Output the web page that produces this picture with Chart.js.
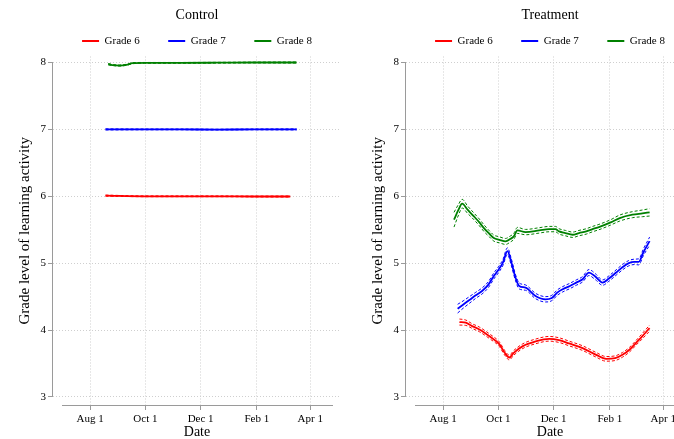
<!DOCTYPE html>
<html>
<head>
<meta charset="utf-8">
<script src="https://cdn.jsdelivr.net/npm/chart.js"></script>
<style>
  html, body { margin: 0; padding: 0; background: #fff; overflow: hidden; }
  #wrap { position: relative; width: 674px; height: 439px; overflow: hidden; }
  .panel { position: absolute; top: 0; width: 345px; height: 439px; }
</style>
</head>
<body>
<div id="wrap">
  <div class="panel" style="left:0"><canvas id="control" width="345" height="439"></canvas></div>
  <div class="panel" style="left:353px"><canvas id="treatment" width="345" height="439"></canvas></div>
</div>
<script>
/*---------------------------- data ------------------------------------*/
// x values are days since Aug 1
var tickDays = [0, 61, 122, 184, 243];
var tickLabels = ['Aug 1', 'Oct 1', 'Dec 1', 'Feb 1', 'Apr 1'];
var yTicks = [3, 4, 5, 6, 7, 8];
var grades = ['Grade 6', 'Grade 7', 'Grade 8'];
var gradeColors = ['#ff0000', '#0000ff', '#008000'];

// Control
var ctrlDays6 = [17, 60, 100, 140, 180, 221];
var ctrl6 = [6.01, 6.0, 6.0, 6.0, 5.997, 5.997];
var ctrl6Band = [0.008, 0.006, 0.006, 0.006, 0.006, 0.008];
var ctrlDays7 = [17, 60, 100, 140, 180, 228];
var ctrl7 = [7.0, 7.0, 7.0, 6.997, 7.0, 7.0];
var ctrl7Band = [0.008, 0.006, 0.006, 0.006, 0.006, 0.008];
var ctrlDays8 = [20, 26, 32, 40, 47, 60, 100, 140, 180, 228];
var ctrl8 = [7.975, 7.96, 7.955, 7.965, 7.99, 7.995, 7.995, 7.997, 8.0, 8.0];
var ctrl8Band = [0.01, 0.008, 0.008, 0.008, 0.008, 0.006, 0.006, 0.006, 0.006, 0.008];

// Treatment
var treatDays6 = [18, 25, 32, 40, 52, 62, 68, 73, 78, 88, 102, 117, 128, 139, 154, 169, 180, 190, 198, 206, 213, 220, 228];
var treat6 = [4.12, 4.11, 4.06, 4.01, 3.90, 3.79, 3.66, 3.59, 3.66, 3.76, 3.83, 3.87, 3.85, 3.80, 3.73, 3.63, 3.57, 3.58, 3.63, 3.71, 3.81, 3.91, 4.03];
var treat6Band = [0.045, 0.04, 0.035, 0.035, 0.035, 0.035, 0.035, 0.035, 0.035, 0.035, 0.035, 0.035, 0.035, 0.035, 0.035, 0.035, 0.035, 0.035, 0.035, 0.035, 0.035, 0.04, 0.045];

var treatDays7 = [16, 22, 29, 36, 43, 50, 56, 61, 66, 71, 75, 80, 84, 91, 102, 113, 120, 126, 132, 140, 147, 154, 161, 168, 176, 183, 191, 198, 205, 211, 216, 221, 228];
var treat7 = [4.32, 4.38, 4.45, 4.52, 4.585, 4.68, 4.81, 4.9, 5.01, 5.18, 5.03, 4.78, 4.66, 4.635, 4.51, 4.46, 4.48, 4.56, 4.61, 4.66, 4.71, 4.76, 4.86, 4.8, 4.71, 4.77, 4.86, 4.94, 5.0, 5.02, 5.02, 5.16, 5.33];
var treat7Band = [0.065, 0.055, 0.05, 0.045, 0.045, 0.045, 0.045, 0.045, 0.045, 0.05, 0.05, 0.045, 0.045, 0.04, 0.04, 0.04, 0.04, 0.04, 0.04, 0.04, 0.04, 0.04, 0.045, 0.045, 0.04, 0.04, 0.04, 0.04, 0.04, 0.04, 0.045, 0.05, 0.06];

var treatDays8 = [12, 17, 21, 27, 34, 40, 45, 51, 56, 62, 69, 74, 78, 82, 91, 106, 117, 124, 128, 135, 143, 150, 158, 165, 172, 185, 195, 209, 220, 228];
var treat8 = [5.65, 5.80, 5.89, 5.80, 5.70, 5.61, 5.525, 5.44, 5.375, 5.35, 5.325, 5.36, 5.40, 5.49, 5.465, 5.49, 5.51, 5.51, 5.475, 5.45, 5.425, 5.45, 5.475, 5.51, 5.54, 5.61, 5.675, 5.725, 5.745, 5.76];
var treat8Band = [0.11, 0.08, 0.065, 0.055, 0.05, 0.05, 0.05, 0.045, 0.045, 0.045, 0.045, 0.045, 0.045, 0.045, 0.04, 0.04, 0.04, 0.04, 0.04, 0.04, 0.04, 0.04, 0.04, 0.04, 0.04, 0.04, 0.045, 0.045, 0.05, 0.055];

/*---------------------------- helpers ------------------------------------*/
var serif = '"Liberation Serif", "DejaVu Serif", serif';
var axisColor = '#9a9a9a';
var gridColor = '#cfcfcf';
Chart.defaults.color = '#000';

function gradeSets(daysList, valsList, bandList) {
  var sets = [];
  grades.forEach(function (g, k) {
    var days = daysList[k], vals = valsList[k], band = bandList[k];
    [-1, 1].forEach(function (s) {
      sets.push({
        label: g + (s < 0 ? ' lower' : ' upper'),
        band: true,
        data: days.map(function (d, i) { return { x: d, y: vals[i] + s * band[i] }; }),
        borderColor: gradeColors[k],
        borderWidth: 1,
        borderDash: [3, 2],
        cubicInterpolationMode: 'monotone'
      });
    });
    sets.push({
      label: g,
      data: days.map(function (d, i) { return { x: d, y: vals[i] }; }),
      borderColor: gradeColors[k],
      backgroundColor: gradeColors[k],
      borderWidth: 1.8,
      cubicInterpolationMode: 'monotone'
    });
  });
  return sets;
}

var axisLines = {
  id: 'axisLines',
  afterDraw: function (chart) {
    var ctx = chart.ctx, a = chart.chartArea, ys = chart.scales.y;
    var xl = Math.round(a.left) - 0.5, yb = Math.round(a.bottom) + 0.5;
    ctx.save();
    ctx.strokeStyle = axisColor;
    ctx.lineWidth = 1;
    ctx.beginPath();
    ctx.moveTo(xl, ys.getPixelForValue(yTicks[yTicks.length - 1]));
    ctx.lineTo(xl, ys.getPixelForValue(yTicks[0]));
    ctx.moveTo(a.left + 9, yb);
    ctx.lineTo(a.right - 8, yb);
    ctx.stroke();
    ctx.restore();
  }
};

function makeOptions(title) {
  return {
    responsive: false,
    animation: false,
    layout: { padding: { left: 0, right: 4, top: 0, bottom: 0 } },
    elements: { point: { radius: 0 } },
    plugins: {
      title: {
        display: true, text: title, fullSize: false,
        font: { family: serif, size: 14, weight: 'normal' },
        padding: { top: 7, bottom: -16.8 }
      },
      legend: {
        fullSize: false,
        labels: {
          usePointStyle: true, pointStyle: 'line', pointStyleWidth: 17,
          padding: 28.5,
          font: { family: serif, size: 11 },
          filter: function (item, data) { return !data.datasets[item.datasetIndex].band; }
        }
      },
      tooltip: { enabled: false }
    },
    scales: {
      x: {
        type: 'linear', min: -41, max: 277,
        afterBuildTicks: function (s) { s.ticks = tickDays.map(function (v) { return { value: v }; }); },
        afterFit: function (s) { s.height = 34; },
        ticks: {
          autoSkip: false, maxRotation: 0, padding: 3,
          font: { family: serif, size: 11 },
          callback: function (v) { return tickLabels[tickDays.indexOf(v)]; }
        },
        grid: { color: gridColor, tickLength: 5, tickColor: axisColor, tickBorderDash: [] },
        border: { display: false, dash: [1, 2] },
        title: { display: true, text: 'Date', font: { family: serif, size: 14, lineHeight: 1 }, padding: { top: 0, bottom: 0 } }
      },
      y: {
        min: 2.88, max: 8.09,
        afterBuildTicks: function (s) { s.ticks = yTicks.map(function (v) { return { value: v }; }); },
        afterFit: function (s) { s.width = 53; },
        ticks: { padding: 2, font: { family: serif, size: 11 } },
        grid: { color: gridColor, tickLength: 5, tickColor: axisColor, tickBorderDash: [] },
        border: { display: false, dash: [1, 2] },
        title: { display: true, text: 'Grade level of learning activity', font: { family: serif, size: 15 }, padding: { top: 16, bottom: 0 } }
      }
    }
  };
}

/*---------------------------- Control ------------------------------------*/
new Chart('control', {
  type: 'line',
  data: { datasets: gradeSets([ctrlDays6, ctrlDays7, ctrlDays8], [ctrl6, ctrl7, ctrl8], [ctrl6Band, ctrl7Band, ctrl8Band]) },
  options: makeOptions('Control'),
  plugins: [axisLines]
});

/*---------------------------- Treatment ------------------------------------*/
new Chart('treatment', {
  type: 'line',
  data: { datasets: gradeSets([treatDays6, treatDays7, treatDays8], [treat6, treat7, treat8], [treat6Band, treat7Band, treat8Band]) },
  options: makeOptions('Treatment'),
  plugins: [axisLines]
});
</script>
</body>
</html>
